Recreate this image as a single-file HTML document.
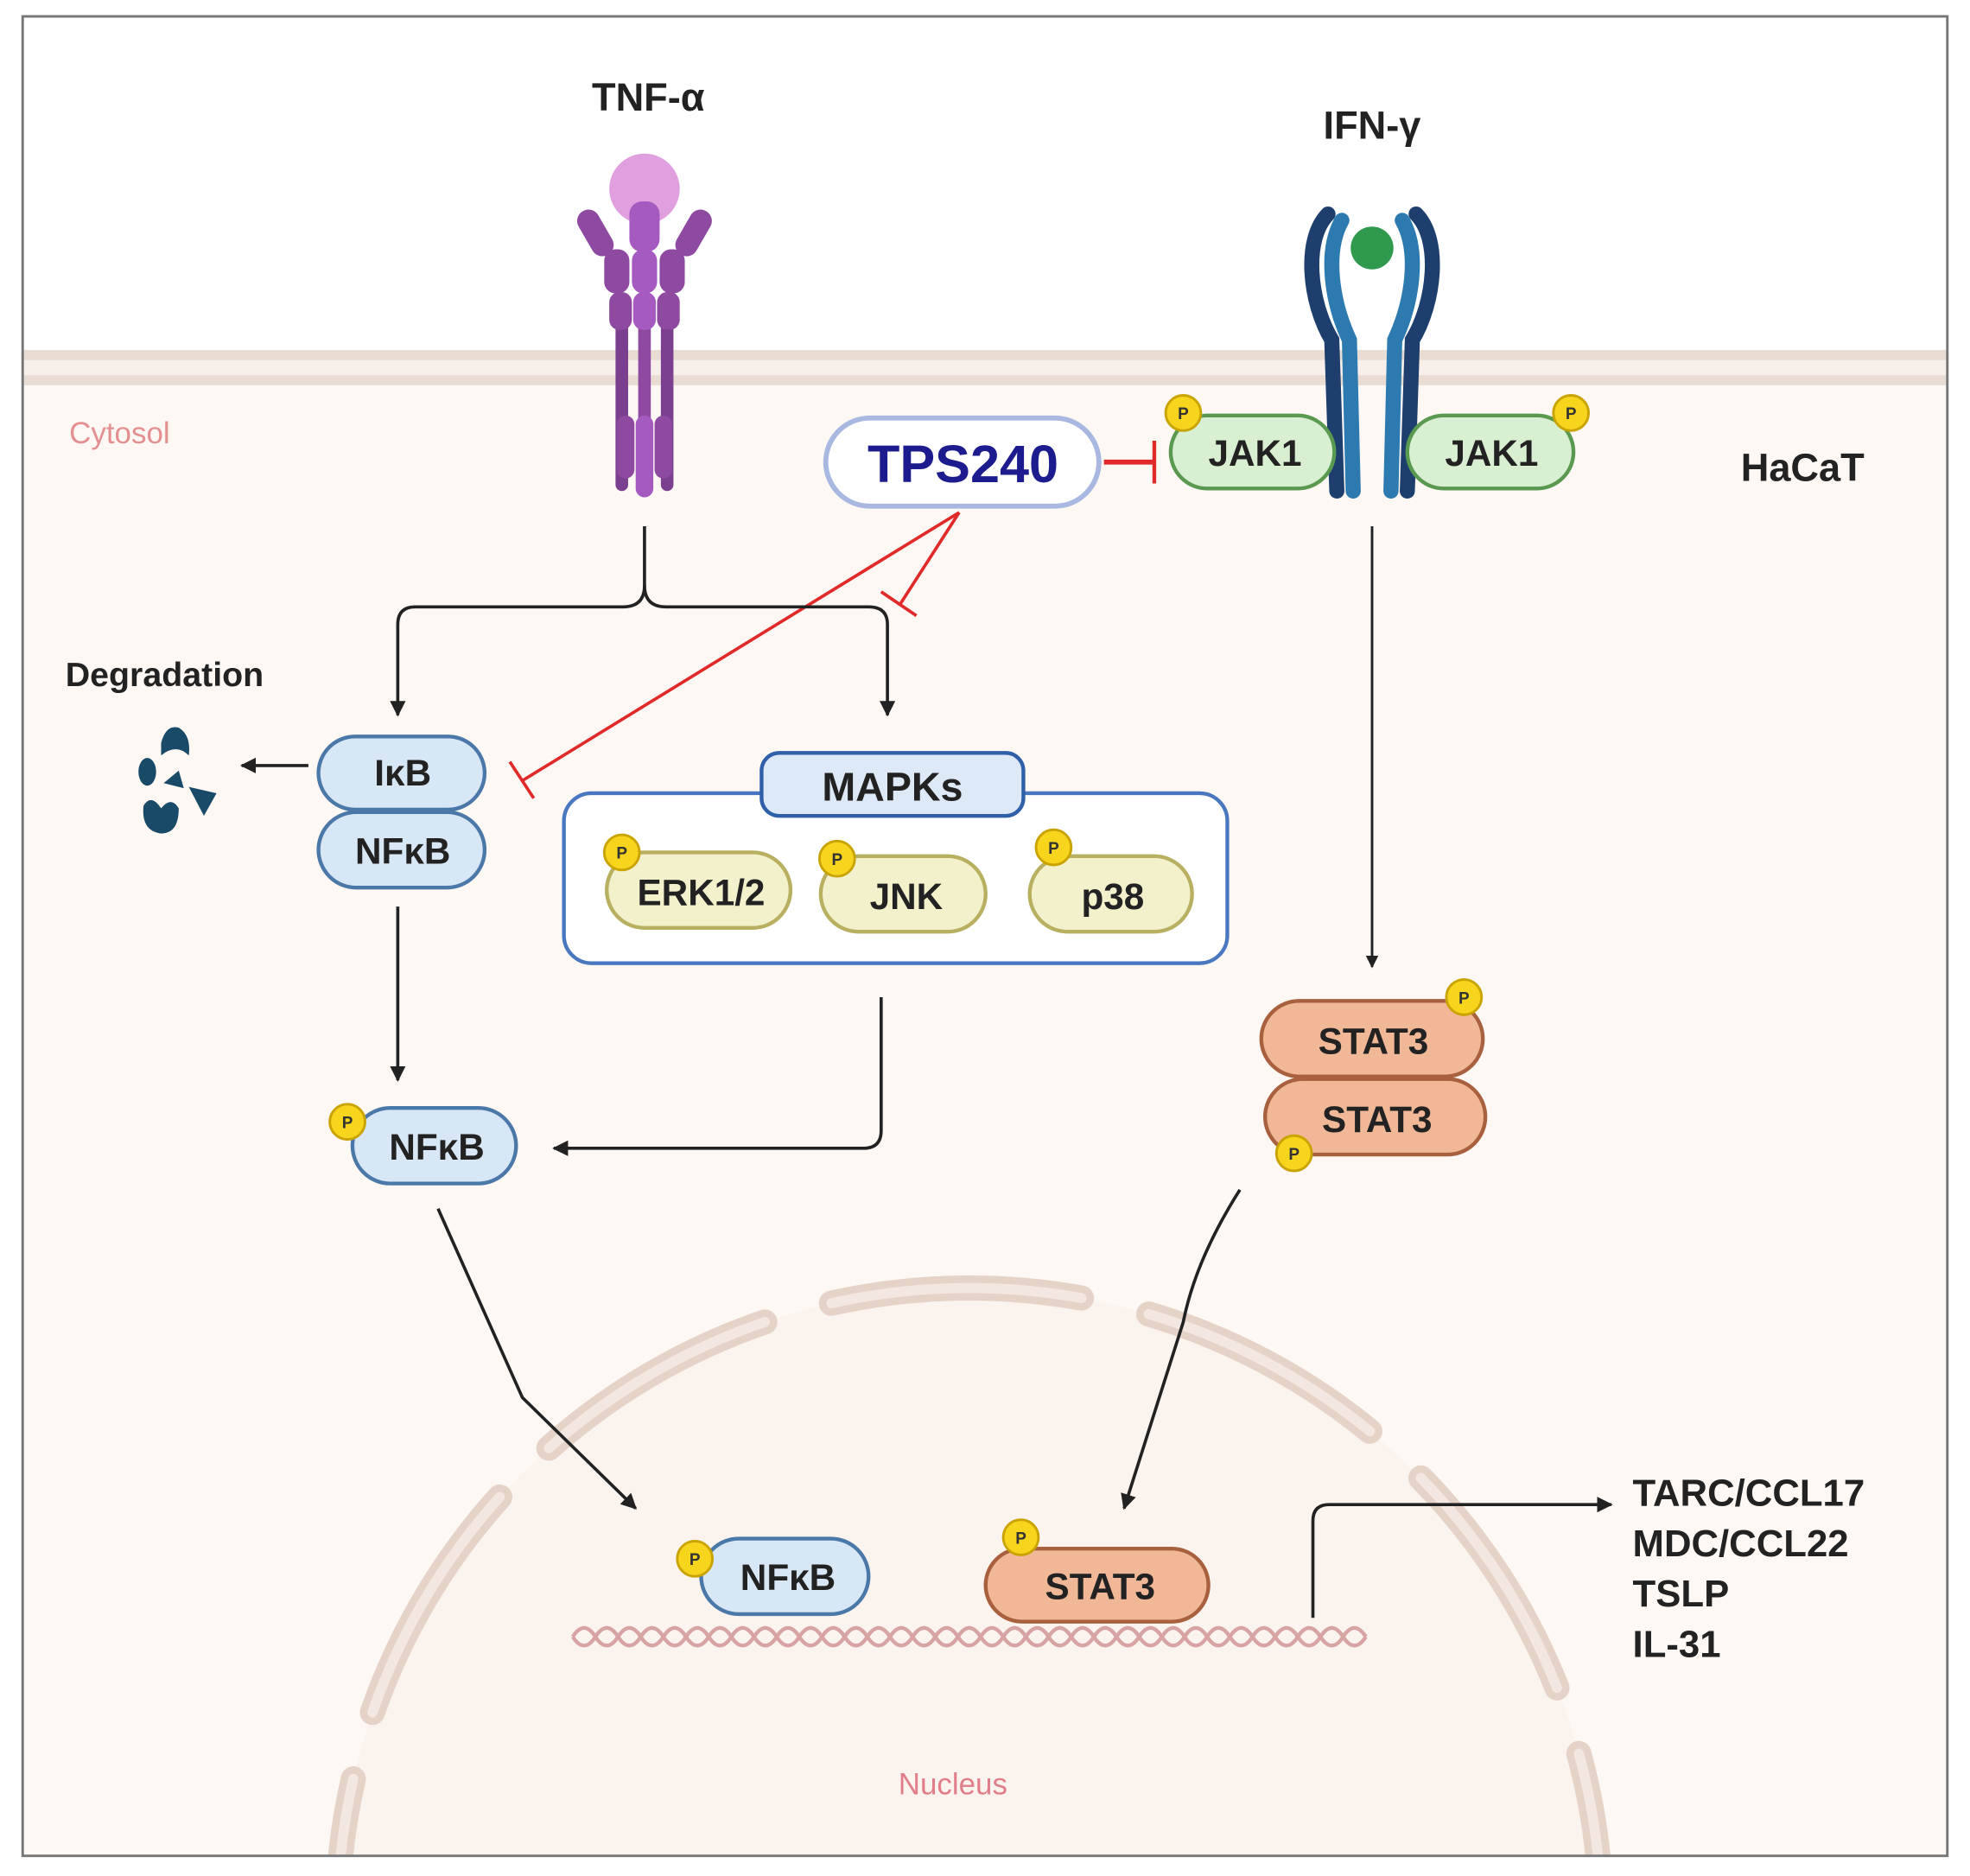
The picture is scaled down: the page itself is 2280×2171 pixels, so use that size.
<!DOCTYPE html>
<html><head><style>
html,body{margin:0;padding:0;background:#fff;width:2280px;height:2171px;overflow:hidden;}
svg{display:block;}
text{font-family:"Liberation Sans",sans-serif;}
</style></head><body>
<svg width="2280" height="2171" viewBox="0 0 1565 1490" preserveAspectRatio="none" xmlns="http://www.w3.org/2000/svg">
<defs>
<marker id="ah" viewBox="0 0 10 10" refX="9" refY="5" markerWidth="5" markerHeight="5" orient="auto"><path d="M0,0 L10,5 L0,10 z" fill="#222"/></marker>
<clipPath id="cl"><rect x="18" y="13" width="1529" height="1461"/></clipPath>
</defs>
<rect x="0" y="0" width="1565" height="1490" fill="#fff"/>
<rect x="18" y="13" width="1529" height="1461" fill="#fff"/>
<rect x="18" y="300" width="1529" height="1174" fill="#fdf8f4"/>
<rect x="18" y="278" width="1529" height="28" fill="#e9dcd3"/>
<rect x="18" y="286" width="1529" height="12" fill="#f6efea"/>
<g clip-path="url(#cl)">
<circle cx="770" cy="1525" r="502" fill="#fbf3ee" stroke="#e6d3c8" stroke-width="20" stroke-dasharray="200 55" stroke-linecap="round" stroke-dashoffset="40"/>
<circle cx="770" cy="1525" r="502" fill="none" stroke="#f3e8e1" stroke-width="8" stroke-dasharray="200 55" stroke-linecap="round" stroke-dashoffset="40"/>
</g>
<rect x="18" y="13" width="1529" height="1461" fill="none" stroke="#777" stroke-width="2"/>
<text x="55" y="352" font-size="24" fill="#e49090">Cytosol</text>
<text x="757" y="1425" font-size="24" fill="#e07f8a" text-anchor="middle">Nucleus</text>
<text x="515" y="88" font-size="31" font-weight="bold" text-anchor="middle" fill="#222">TNF-α</text>
<text x="1090" y="110" font-size="31" font-weight="bold" text-anchor="middle" fill="#222">IFN-γ</text>
<text x="1432" y="382" font-size="31" font-weight="bold" text-anchor="middle" fill="#222">HaCaT</text>
<text x="52" y="545" font-size="27" font-weight="bold" fill="#222">Degradation</text>
<g>
<ellipse cx="512" cy="150" rx="28" ry="28" fill="#e0a0e0"/>
<rect x="489" y="240" width="10" height="150" rx="5" fill="#7a3f8e"/>
<rect x="507" y="240" width="10" height="155" rx="5" fill="#8d4aa0"/>
<rect x="525" y="240" width="10" height="150" rx="5" fill="#7a3f8e"/>
<rect x="490" y="330" width="14" height="50" rx="7" fill="#8d4aa0"/>
<rect x="505" y="330" width="14" height="65" rx="7" fill="#a55ac0"/>
<rect x="520" y="330" width="14" height="50" rx="7" fill="#8d4aa0"/>
<rect x="464" y="165" width="18" height="40" rx="9" fill="#8d4aa0" transform="rotate(-30 473 185)"/>
<rect x="542" y="165" width="18" height="40" rx="9" fill="#8d4aa0" transform="rotate(30 551 185)"/>
<rect x="500" y="160" width="24" height="40" rx="10" fill="#a55ac0"/>
<rect x="480" y="198" width="20" height="35" rx="9" fill="#8d4aa0"/>
<rect x="502" y="198" width="20" height="35" rx="9" fill="#a55ac0"/>
<rect x="524" y="198" width="20" height="35" rx="9" fill="#8d4aa0"/>
<rect x="484" y="232" width="18" height="30" rx="8" fill="#8d4aa0"/>
<rect x="503" y="232" width="18" height="30" rx="8" fill="#a55ac0"/>
<rect x="522" y="232" width="18" height="30" rx="8" fill="#8d4aa0"/>
</g>
<g>
<path d="M1055,170 C1035,190 1040,240 1058,270 L1062,390" stroke="#1e3f6e" stroke-width="12" fill="none" stroke-linecap="round"/>
<path d="M1066,175 C1052,200 1058,240 1072,270 L1075,390" stroke="#2d7ab0" stroke-width="12" fill="none" stroke-linecap="round"/>
<path d="M1125,170 C1145,190 1140,240 1122,270 L1118,390" stroke="#1e3f6e" stroke-width="12" fill="none" stroke-linecap="round"/>
<path d="M1114,175 C1128,200 1122,240 1108,270 L1105,390" stroke="#2d7ab0" stroke-width="12" fill="none" stroke-linecap="round"/>
<circle cx="1090" cy="197" r="17" fill="#2f9a4e"/>
</g>
<rect x="656" y="332" width="217" height="70" rx="35" fill="#fff" stroke="#a8b8e0" stroke-width="4"/>
<text x="765" y="383" font-size="42" font-weight="bold" text-anchor="middle" fill="#1c1c8e">TPS240</text>
<line x1="877" y1="367" x2="916" y2="367" stroke="#e02a2a" stroke-width="4"/>
<line x1="917" y1="350" x2="917" y2="384" stroke="#e02a2a" stroke-width="3"/>
<rect x="930" y="330" width="130" height="58" rx="29" fill="#d9efd2" stroke="#5a9a50" stroke-width="3"/>
<text x="997" y="370" font-size="29" font-weight="bold" text-anchor="middle" fill="#222">JAK1</text>
<rect x="1118" y="330" width="132" height="58" rx="29" fill="#d9efd2" stroke="#5a9a50" stroke-width="3"/>
<text x="1185" y="370" font-size="29" font-weight="bold" text-anchor="middle" fill="#222">JAK1</text>
<line x1="762" y1="407" x2="415" y2="620" stroke="#e02a2a" stroke-width="2.5"/>
<line x1="405" y1="605" x2="424" y2="634" stroke="#e02a2a" stroke-width="2.5"/>
<line x1="762" y1="407" x2="715" y2="480" stroke="#e02a2a" stroke-width="2.5"/>
<line x1="700" y1="470" x2="728" y2="489" stroke="#e02a2a" stroke-width="2.5"/>
<path d="M512,418 L512,465 Q512,482 495,482 L330,482 Q316,482 316,496 L316,568" stroke="#222" stroke-width="2.5" fill="none" marker-end="url(#ah)"/>
<path d="M512,465 Q512,482 529,482 L690,482 Q705,482 705,496 L705,568" stroke="#222" stroke-width="2.5" fill="none" marker-end="url(#ah)"/>
<line x1="245" y1="608" x2="192" y2="608" stroke="#222" stroke-width="2.5" marker-end="url(#ah)"/>
<g fill="#194a68">
<path d="M128,590 Q132,575 142,578 Q152,584 150,600 Q140,590 128,600 Z"/>
<ellipse cx="117" cy="613" rx="7" ry="11"/>
<path d="M130,622 L142,612 L146,626 Z"/>
<path d="M150,625 L172,630 L162,648 Z"/>
<path d="M114,640 Q120,630 128,642 Q136,632 142,642 Q142,662 128,662 Q112,660 114,640 Z"/>
</g>
<rect x="253" y="645" width="132" height="60" rx="30" fill="#d8e7f6" stroke="#4a78a8" stroke-width="3"/>
<rect x="253" y="585" width="132" height="58" rx="29" fill="#d8e7f6" stroke="#4a78a8" stroke-width="3"/>
<text x="320" y="624" font-size="29" font-weight="bold" text-anchor="middle" fill="#222">IκB</text>
<text x="320" y="686" font-size="29" font-weight="bold" text-anchor="middle" fill="#222">NFκB</text>
<rect x="448" y="630" width="527" height="135" rx="22" fill="#fff" stroke="#4a78c0" stroke-width="3"/>
<rect x="605" y="598" width="208" height="50" rx="14" fill="#dde9f7" stroke="#2e5fa8" stroke-width="3"/>
<text x="709" y="636" font-size="32" font-weight="bold" text-anchor="middle" fill="#222">MAPKs</text>
<rect x="482" y="677" width="146" height="60" rx="30" fill="#f3f1cc" stroke="#b8b060" stroke-width="3"/>
<text x="557" y="719" font-size="29" font-weight="bold" text-anchor="middle" fill="#222">ERK1/2</text>
<rect x="652" y="680" width="131" height="60" rx="30" fill="#f3f1cc" stroke="#b8b060" stroke-width="3"/>
<text x="720" y="722" font-size="29" font-weight="bold" text-anchor="middle" fill="#222">JNK</text>
<rect x="818" y="680" width="129" height="60" rx="30" fill="#f3f1cc" stroke="#b8b060" stroke-width="3"/>
<text x="884" y="722" font-size="29" font-weight="bold" text-anchor="middle" fill="#222">p38</text>
<line x1="316" y1="720" x2="316" y2="858" stroke="#222" stroke-width="2.5" marker-end="url(#ah)"/>
<path d="M700,792 L700,898 Q700,912 686,912 L440,912" stroke="#222" stroke-width="2.5" fill="none" marker-end="url(#ah)"/>
<rect x="280" y="880" width="130" height="60" rx="30" fill="#d8e7f6" stroke="#4a78a8" stroke-width="3"/>
<text x="347" y="921" font-size="29" font-weight="bold" text-anchor="middle" fill="#222">NFκB</text>
<line x1="1090" y1="418" x2="1090" y2="768" stroke="#222" stroke-width="2" marker-end="url(#ah)"/>
<rect x="1005" y="857" width="175" height="60" rx="30" fill="#f1b898" stroke="#a8603e" stroke-width="3"/>
<text x="1094" y="899" font-size="29" font-weight="bold" text-anchor="middle" fill="#222">STAT3</text>
<rect x="1002" y="795" width="176" height="60" rx="30" fill="#f1b898" stroke="#a8603e" stroke-width="3"/>
<text x="1091" y="837" font-size="29" font-weight="bold" text-anchor="middle" fill="#222">STAT3</text>
<path d="M348,960 L415,1110 L505,1198" stroke="#222" stroke-width="2.5" fill="none" marker-end="url(#ah)"/>
<path d="M985,945 Q950,1000 940,1050 L893,1198" stroke="#222" stroke-width="2.5" fill="none" marker-end="url(#ah)"/>
<g fill="none" stroke="#d7a3a3" stroke-width="3">
<path d="M455,1300 q9,-14 18,0 t18,0 t18,0 t18,0 t18,0 t18,0 t18,0 t18,0 t18,0 t18,0 t18,0 t18,0 t18,0 t18,0 t18,0 t18,0 t18,0 t18,0 t18,0 t18,0 t18,0 t18,0 t18,0 t18,0 t18,0 t18,0 t18,0 t18,0 t18,0 t18,0 t18,0 t18,0 t18,0 t18,0 t18,0"/>
<path d="M455,1300 q9,14 18,0 t18,0 t18,0 t18,0 t18,0 t18,0 t18,0 t18,0 t18,0 t18,0 t18,0 t18,0 t18,0 t18,0 t18,0 t18,0 t18,0 t18,0 t18,0 t18,0 t18,0 t18,0 t18,0 t18,0 t18,0 t18,0 t18,0 t18,0 t18,0 t18,0 t18,0 t18,0 t18,0 t18,0 t18,0"/>
</g>
<rect x="557" y="1222" width="133" height="60" rx="30" fill="#d8e7f6" stroke="#4a78a8" stroke-width="3"/>
<text x="626" y="1263" font-size="29" font-weight="bold" text-anchor="middle" fill="#222">NFκB</text>
<rect x="783" y="1230" width="177" height="58" rx="29" fill="#f1b898" stroke="#a8603e" stroke-width="3"/>
<text x="874" y="1270" font-size="29" font-weight="bold" text-anchor="middle" fill="#222">STAT3</text>
<path d="M1043,1285 L1043,1208 Q1043,1195 1056,1195 L1280,1195" stroke="#222" stroke-width="2.5" fill="none" marker-end="url(#ah)"/>
<g font-size="30" font-weight="bold" fill="#222">
<text x="1297" y="1196">TARC/CCL17</text>
<text x="1297" y="1236">MDC/CCL22</text>
<text x="1297" y="1276">TSLP</text>
<text x="1297" y="1316">IL-31</text>
</g>
<g font-size="13" font-weight="bold" text-anchor="middle" fill="#333">
<g><circle cx="940" cy="328" r="14" fill="#f7d51c" stroke="#c9a400" stroke-width="2"/><text x="940" y="333">P</text></g>
<g><circle cx="1248" cy="328" r="14" fill="#f7d51c" stroke="#c9a400" stroke-width="2"/><text x="1248" y="333">P</text></g>
<g><circle cx="494" cy="677" r="14" fill="#f7d51c" stroke="#c9a400" stroke-width="2"/><text x="494" y="682">P</text></g>
<g><circle cx="665" cy="682" r="14" fill="#f7d51c" stroke="#c9a400" stroke-width="2"/><text x="665" y="687">P</text></g>
<g><circle cx="837" cy="673" r="14" fill="#f7d51c" stroke="#c9a400" stroke-width="2"/><text x="837" y="678">P</text></g>
<g><circle cx="276" cy="891" r="14" fill="#f7d51c" stroke="#c9a400" stroke-width="2"/><text x="276" y="896">P</text></g>
<g><circle cx="1163" cy="792" r="14" fill="#f7d51c" stroke="#c9a400" stroke-width="2"/><text x="1163" y="797">P</text></g>
<g><circle cx="1028" cy="916" r="14" fill="#f7d51c" stroke="#c9a400" stroke-width="2"/><text x="1028" y="921">P</text></g>
<g><circle cx="552" cy="1238" r="14" fill="#f7d51c" stroke="#c9a400" stroke-width="2"/><text x="552" y="1243">P</text></g>
<g><circle cx="811" cy="1221" r="14" fill="#f7d51c" stroke="#c9a400" stroke-width="2"/><text x="811" y="1226">P</text></g>
</g>
</svg>
</body></html>
